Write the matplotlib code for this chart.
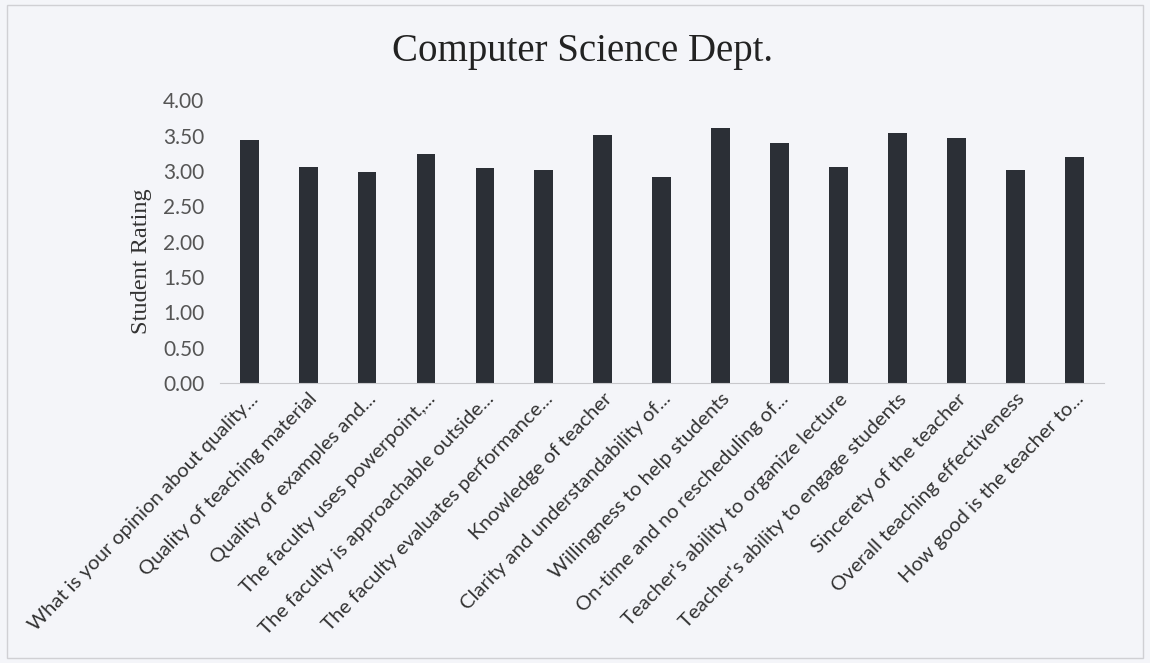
import matplotlib.pyplot as plt
import numpy as np

questions = [
    'What is your opinion about quality...',
    'Quality of teaching material',
    'Quality of examples and...',
    'The faculty uses powerpoint,...',
    'The faculty is approachable outside...',
    'The faculty evaluates performance...',
    'Knowledge of teacher',
    'Clarity and understandability of...',
    'Willingness to help students',
    'On-time and no rescheduling of...',
    "Teacher's ability to organize lecture",
    "Teacher's ability to engage students",
    'Sincerety of the teacher',
    'Overall teaching effectiveness',
    'How good is the teacher to...',
]
ratings = [3.44, 3.05, 2.99, 3.24, 3.04, 3.01, 3.51, 2.92,
           3.60, 3.40, 3.06, 3.53, 3.46, 3.01, 3.20]
y_ticks = [0.0, 0.5, 1.0, 1.5, 2.0, 2.5, 3.0, 3.5, 4.0]

bg = '#f4f5f9'
fig = plt.figure(figsize=(11.5, 6.63), dpi=100, facecolor=bg)
ax = fig.add_axes([0.191, 0.422, 0.769, 0.427])
ax.set_facecolor(bg)

x = np.arange(len(questions))
ax.bar(x, ratings, width=0.32, color='#2b2f36')

ax.set_xlim(-0.5, len(questions) - 0.5)
ax.set_ylim(0, 4.0)
ax.set_yticks(y_ticks)
ax.set_yticklabels([f'{v:.2f}' for v in y_ticks], family='Lato', fontsize=15, color='#555555')
ax.set_xticks(x)
ax.set_xticklabels(questions, rotation=46, ha='right', rotation_mode='anchor',
                   family='Lato', fontsize=14.6, color='#333333')
ax.tick_params(axis='y', length=0, pad=11)
ax.tick_params(axis='x', length=0, pad=5)

for s in ['top', 'right', 'left']:
    ax.spines[s].set_visible(False)
ax.spines['bottom'].set_color('#c8c8cc')

ax.set_ylabel('Student Rating', family='Liberation Serif', fontsize=17.5, color='#333333')
ax.yaxis.set_label_coords(-0.076, 0.43)
fig.text(0.507, 0.922, 'Computer Science Dept.', ha='center', va='center',
         family='Liberation Serif', fontsize=28, color='#222222')

# faint outline of the chart area
fig.patches.append(plt.Rectangle((0.006, 0.008), 0.988, 0.984, transform=fig.transFigure,
                                 fill=False, edgecolor='#d0d0d4', linewidth=1))

fig.savefig('out.png', dpi=100, facecolor=bg)
